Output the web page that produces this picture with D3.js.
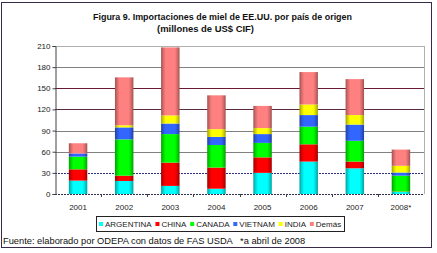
<!DOCTYPE html>
<html>
<head>
<meta charset="utf-8">
<script src="https://cdn.jsdelivr.net/npm/d3@7"></script>
<style>
  body { margin: 0; background: #fff; }
  text { font-family: "Liberation Sans", Arial, sans-serif; }
</style>
</head>
<body>
<svg id="chart" width="437" height="253"></svg>
<script>
// Data (millones de US$ CIF)
var years = ["2001", "2002", "2003", "2004", "2005", "2006", "2007", "2008*"]
var series = ["ARGENTINA", "CHINA", "CANADA", "VIETNAM", "INDIA", "Demás"]
var argentina = [19, 18.5, 11.5, 7.5, 30, 46, 36.5, 3]
var china     = [16, 7.5, 33, 30, 22, 24.5, 9.5, 0.5]
var canada    = [18, 51.5, 40.5, 32, 20.5, 25, 29.5, 22.5]
var vietnam   = [4.5, 17, 15, 11.5, 12.5, 16.5, 23, 4.5]
var india     = [0, 3, 11.5, 11, 8.5, 15, 13.5, 9.5]
var demas     = [14.5, 68, 96.5, 48, 31.5, 46, 51, 23]
var yTicks = [0, 30, 60, 90, 120, 150, 180, 210]

var colors = ["#00ffff", "#ff0000", "#00ff00", "#3366ff", "#ffff00", "#ff8080"]
var values = [argentina, china, canada, vietnam, india, demas]

var table = years.map(function(y, i) {
  var row = { year: y }
  series.forEach(function(s, k) { row[s] = values[k][i] })
  return row
})

var svg = d3.select("#chart")
var pLeft = 55, pRight = 424, pTop = 46, pBottom = 194

var x = d3.scaleBand().domain(years).range([pLeft, pRight]).paddingInner(0.6).paddingOuter(0.3)
var y = d3.scaleLinear().domain([0, 210]).range([pBottom, pTop])

// outer border
svg.append("rect").attr("x", 1.5).attr("y", 2.5).attr("width", 430).attr("height", 245)
  .attr("fill", "none").attr("stroke", "#3a2a4a").attr("stroke-width", 1)

// gradients for the cylinder look
var defs = svg.append("defs")
colors.forEach(function(c, k) {
  var g = defs.append("linearGradient").attr("id", "g" + k)
  var dark = d3.color(c).darker(1.3), semi = d3.color(c).darker(0.5)
  g.append("stop").attr("offset", "0%").attr("stop-color", dark)
  g.append("stop").attr("offset", "12%").attr("stop-color", semi)
  g.append("stop").attr("offset", "25%").attr("stop-color", c)
  g.append("stop").attr("offset", "75%").attr("stop-color", c)
  g.append("stop").attr("offset", "88%").attr("stop-color", semi)
  g.append("stop").attr("offset", "100%").attr("stop-color", dark)
})

// gridlines
var gridColor = { 30: "#303080", 60: "#808080", 90: "#808080", 120: "#5a2a40", 150: "#6a1a30", 180: "#808080", 210: "#b0b0b0" }
svg.append("g").selectAll("line").data(yTicks.filter(function(t) { return t > 0 })).join("line")
  .attr("x1", pLeft).attr("x2", pRight)
  .attr("y1", function(d) { return Math.round(y(d)) + 0.5 }).attr("y2", function(d) { return Math.round(y(d)) + 0.5 })
  .attr("stroke", function(d) { return gridColor[d] })
  .attr("stroke-dasharray", function(d) { return d == 30 ? "2,1" : null })
svg.append("line").attr("x1", pRight + 0.5).attr("x2", pRight + 0.5).attr("y1", pTop).attr("y2", pBottom)
  .attr("stroke", "#b0b0b0")

// stacked bars
var stack = d3.stack().keys(series)(table)
svg.append("g").selectAll("g").data(stack).join("g")
  .attr("fill", function(d, k) { return "url(#g" + k + ")" })
  .selectAll("rect").data(function(d) { return d }).join("rect")
  .attr("x", function(d) { return x(d.data.year) })
  .attr("width", x.bandwidth())
  .attr("y", function(d) { return y(d[1]) })
  .attr("height", function(d) { return Math.max(0, y(d[0]) - y(d[1])) })

// y axis
var yAxis = svg.append("g").attr("transform", "translate(" + (pLeft + 0.5) + ",0)")
  .call(d3.axisLeft(y).tickValues(yTicks).tickSize(3).tickPadding(2))
yAxis.select(".domain").attr("stroke", "#404040")
yAxis.selectAll(".tick line").attr("stroke", "#404040")
yAxis.selectAll("text").attr("font-size", 8).attr("fill", "#222")

// x axis
svg.append("line").attr("x1", pLeft).attr("x2", pRight).attr("y1", pBottom + 0.5).attr("y2", pBottom + 0.5)
  .attr("stroke", "#303050").attr("stroke-dasharray", "2,1")
svg.append("g").selectAll("line").data(d3.range(1, years.length)).join("line")
  .attr("x1", function(i) { return Math.round(pLeft + i * (pRight - pLeft) / years.length) + 0.5 })
  .attr("x2", function(i) { return Math.round(pLeft + i * (pRight - pLeft) / years.length) + 0.5 })
  .attr("y1", pBottom).attr("y2", pBottom + 3).attr("stroke", "#404040")
svg.append("g").selectAll("text").data(years).join("text")
  .attr("x", function(d) { return x(d) + x.bandwidth() / 2 })
  .attr("y", 210).attr("text-anchor", "middle").attr("font-size", 8).attr("fill", "#222")
  .text(function(d) { return d })

// title
svg.append("text").attr("x", 93).attr("y", 20)
  .attr("font-size", 9.5).attr("font-weight", "bold").attr("fill", "#111")
  .attr("textLength", 259).attr("lengthAdjust", "spacingAndGlyphs")
  .text("Figura 9. Importaciones de miel de EE.UU. por país de origen")
svg.append("text").attr("x", 157).attr("y", 32)
  .attr("font-size", 9.5).attr("font-weight", "bold").attr("fill", "#111")
  .attr("textLength", 97).attr("lengthAdjust", "spacingAndGlyphs")
  .text("(millones de US$ CIF)")

// legend
svg.append("rect").attr("x", 96.5).attr("y", 216.5).attr("width", 248).attr("height", 15)
  .attr("fill", "#fff").attr("stroke", "#222")
var lx = 99
series.forEach(function(s, k) {
  var g = svg.append("g").attr("transform", "translate(" + lx + ",224)")
  g.append("rect").attr("x", 0).attr("y", -2).attr("width", 4).attr("height", 4).attr("fill", colors[k])
  var t = g.append("text").attr("x", 6).attr("y", 3).attr("font-size", 8).attr("fill", "#222").text(s)
  lx += 6 + t.node().getComputedTextLength() + 3.8
})

// source note
svg.append("text").attr("x", 3).attr("y", 244).attr("font-size", 9.3).attr("fill", "#111")
  .attr("xml:space", "preserve").style("white-space", "pre")
  .text("Fuente: elaborado por ODEPA con datos de FAS USDA   *a abril de 2008")
</script>
</body>
</html>
